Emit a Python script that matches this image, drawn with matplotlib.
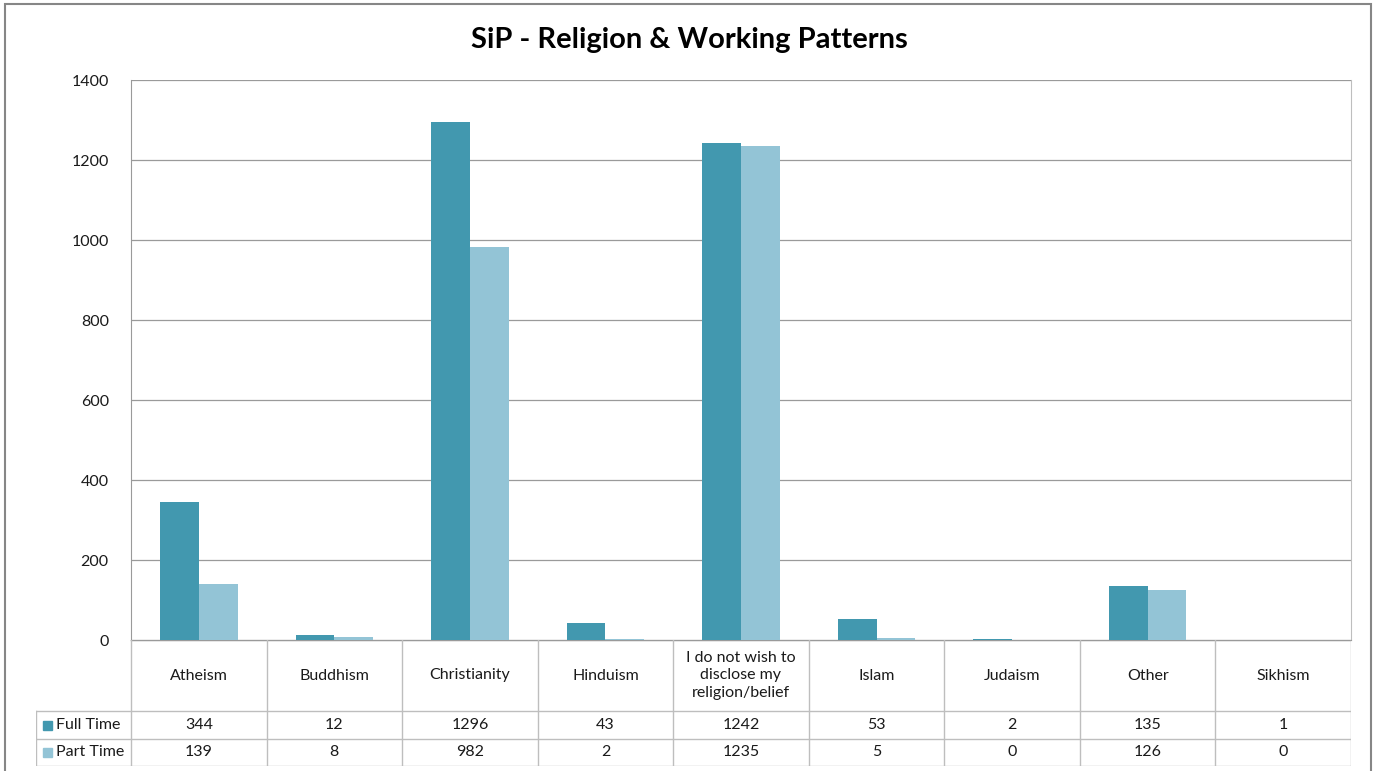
import numpy as np
import matplotlib.pyplot as plt
from matplotlib.patches import Rectangle

plt.rcParams['font.family'] = ['Lato', 'DejaVu Sans']

# dane
categories = ['Atheism', 'Buddhism', 'Christianity', 'Hinduism',
              'I do not wish to\ndisclose my\nreligion/belief',
              'Islam', 'Judaism', 'Other', 'Sikhism']
full_time = [344, 12, 1296, 43, 1242, 53, 2, 135, 1]
part_time = [139, 8, 982, 2, 1235, 5, 0, 126, 0]
series_names = ['Full Time', 'Part Time']
y_ticks = [0, 200, 400, 600, 800, 1000, 1200, 1400]

col_full = '#4298AF'
col_part = '#93C4D6'
grid_col = '#9A9A9A'
table_col = '#BEBEBE'
txt_col = '#1A1A1A'

W, H = 1379, 771
fig = plt.figure(figsize=(W / 100, H / 100), dpi=100)

# ramka wykresu
fig.patches.append(Rectangle((5 / W, -0.01), 1366 / W, 1 - 4 / H + 0.01,
                             transform=fig.transFigure, fill=False,
                             edgecolor='#868686', linewidth=1.5))

fig.text(0.5, 1 - 40 / H, 'SiP - Religion & Working Patterns',
         ha='center', va='center', fontsize=21, fontweight='bold', color='black')

# 1. slupki
ax = fig.add_axes([131 / W, (H - 640) / H, 1220 / W, 560 / H])
n = len(categories)
x = np.arange(n) + 0.5
bw = 1 / 3.5
ax.bar(x - bw / 2, full_time, bw, color=col_full, zorder=3)
ax.bar(x + bw / 2, part_time, bw, color=col_part, zorder=3)
ax.set_xlim(0, n)
ax.set_ylim(0, 1400)
ax.set_yticks(y_ticks)
ax.set_yticklabels([str(v) for v in y_ticks], fontsize=11.5, color=txt_col)
ax.tick_params(axis='y', length=0, pad=16)
ax.set_xticks([])
ax.grid(axis='y', color=grid_col, linewidth=0.9, zorder=0)
ax.spines['top'].set_visible(False)
ax.spines['left'].set_color(grid_col)
ax.spines['bottom'].set_color(grid_col)
ax.spines['right'].set_color(table_col)

# 2. tabela danych
tab = fig.add_axes([36 / W, (H - 766) / H, 1315 / W, 126 / H])
px = 1220 / n  # pikseli na kategorie
left = -95 / px
tab.set_xlim(left, n)
tab.set_ylim(126, 0)
tab.axis('off')
row_y = [71, 99, 126]
lw = 1.0
tab.plot([0, n], [0, 0], color=grid_col, lw=lw)
for yy in row_y:
    tab.plot([left, n], [yy, yy], color=table_col, lw=lw)
for i in range(n + 1):
    tab.plot([i, i], [0, 126], color=table_col, lw=lw)
tab.plot([left, left], [71, 126], color=table_col, lw=lw)

for i, c in enumerate(categories):
    tab.text(i + 0.5, 35.5, c, ha='center', va='center', fontsize=11.5,
             color=txt_col, linespacing=1.35)
rows = [full_time, part_time]
cols = [col_full, col_part]
mids = [85, 112.5]
for r, vals in enumerate(rows):
    for i, v in enumerate(vals):
        tab.text(i + 0.5, mids[r], str(v), ha='center', va='center',
                 fontsize=11.5, color=txt_col)
    tab.add_patch(Rectangle((left + 7 / px, mids[r] - 4.5), 8.5 / px, 9,
                            color=cols[r]))
    tab.text(left + 20 / px, mids[r], series_names[r], ha='left',
             va='center', fontsize=11.5, color=txt_col)

fig.savefig('out.png', dpi=100)
